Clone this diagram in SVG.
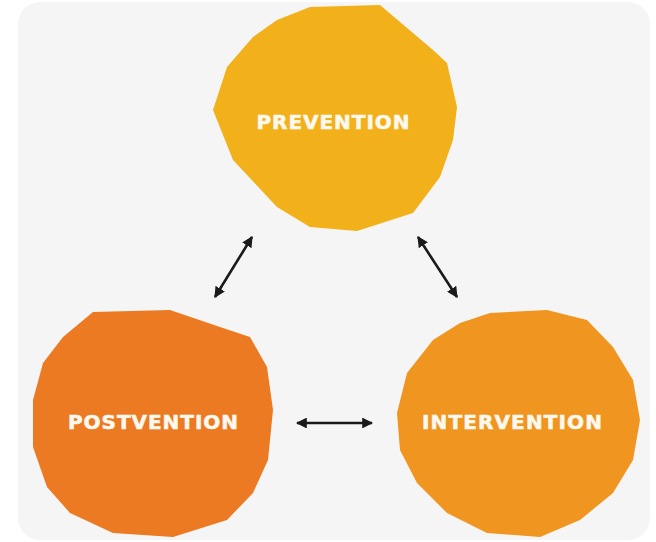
<svg xmlns="http://www.w3.org/2000/svg" width="656" height="542" viewBox="0 0 656 542">
<defs>
<marker id="ah" viewBox="0 0 10 10" refX="9" refY="5" markerWidth="4.2" markerHeight="4.2" orient="auto-start-reverse" markerUnits="strokeWidth">
<path d="M0,0 L10,5 L0,10 Z" fill="#1a1a1a"/>
</marker>
</defs>
<style>
.lbl{font-family:"DejaVu Sans","Liberation Sans",Arial,sans-serif;font-weight:700;font-size:20px;fill:#fff8ee;stroke:#fff8ee;stroke-width:0.6;text-anchor:middle}
.con{stroke:#1a1a1a;stroke-width:2.6;fill:none;marker-start:url(#ah);marker-end:url(#ah)}
</style>
<rect x="0" y="0" width="656" height="542" fill="#ffffff"/>
<rect x="18" y="2" width="632" height="538" rx="22" fill="#f5f5f5"/>
<g id="prevention">
<polygon fill="#f2b01a" points="310,7 380,5 433,50 447,63 457,107 453,140 440,177 413,213 357,231 310,227 277,207 233,160 213,110 227,67 253,37 277,20"/>
<text class="lbl" x="333" y="129" textLength="153" lengthAdjust="spacing">PREVENTION</text>
</g>
<g id="postvention">
<polygon fill="#ec7a22" points="93,312 170,310 220,327 250,337 267,367 273,410 268,460 253,493 227,520 173,537 113,533 70,513 47,487 33,447 33,400 43,363 63,337"/>
<text class="lbl" x="153" y="429" textLength="170" lengthAdjust="spacing">POSTVENTION</text>
</g>
<g id="intervention">
<polygon fill="#f0951f" points="490,313 547,310 587,320 613,347 633,380 640,420 633,460 613,493 580,520 540,537 487,533 447,513 417,483 400,450 397,413 407,373 433,340 460,323"/>
<text class="lbl" x="512" y="429" textLength="180" lengthAdjust="spacing">INTERVENTION</text>
</g>
<g id="connectors">
<line class="con" x1="252" y1="237" x2="215" y2="297"/>
<line class="con" x1="418" y1="237" x2="457" y2="297"/>
<line class="con" x1="297" y1="423" x2="372" y2="423"/>
</g>
</svg>
